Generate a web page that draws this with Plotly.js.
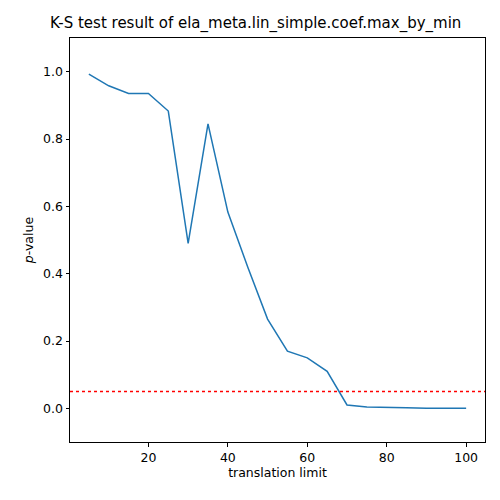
<!DOCTYPE html>
<html>
<head>
<script src="https://cdn.plot.ly/plotly-3.0.1.min.js"></script>
<style>body{margin:0;}</style>
</head>
<body>
<div id="chart" style="width:500px;height:500px;"></div>
<script>
const limits = [5, 10, 15, 20, 25, 30, 35, 40, 45, 50, 55, 60, 65, 70, 75, 80, 85, 90, 95, 100];
const pValues = [0.993, 0.958, 0.935, 0.935, 0.883, 0.49, 0.845, 0.583, 0.42, 0.265, 0.17, 0.15, 0.11, 0.01, 0.004, 0.002, 0.0015, 0.0005, 0.0005, 0.0005];
const alpha = 0.05;
const xRange = [0.25, 104.75];

const font = { family: 'DejaVu Sans', size: 12.5, color: '#000' };

const series = [
  {
    x: limits, y: pValues, type: 'scatter', mode: 'lines',
    line: { color: '#1f77b4', width: 1.5 }
  },
  {
    x: xRange, y: [alpha, alpha], type: 'scatter', mode: 'lines',
    line: { color: 'red', width: 1.5, dash: 'dot' }
  }
];

const layout = {
  width: 500, height: 500,
  showlegend: false,
  paper_bgcolor: '#fff', plot_bgcolor: '#fff',
  margin: { l: 70, r: 15, t: 38, b: 58 },
  font: font,
  title: {
    text: 'K-S test result of ela_meta.lin_simple.coef.max_by_min',
    font: { family: 'DejaVu Sans', size: 15, color: '#000' },
    x: 0.1, xanchor: 'left', y: 0.955, yanchor: 'middle'
  },
  xaxis: {
    range: xRange, tickvals: [20, 40, 60, 80, 100],
    showgrid: false, zeroline: false, showline: true, mirror: true,
    linecolor: '#000', linewidth: 1, ticks: 'outside', ticklen: 3.5, tickcolor: '#000',
    title: { text: 'translation limit', font: font, standoff: 4 }
  },
  yaxis: {
    range: [-0.1, 1.1], tickvals: [0, 0.2, 0.4, 0.6, 0.8, 1.0],
    ticktext: ['0.0', '0.2', '0.4', '0.6', '0.8', '1.0'],
    showgrid: false, zeroline: false, showline: true, mirror: true,
    linecolor: '#000', linewidth: 1, ticks: 'outside', ticklen: 3.5, tickcolor: '#000',
    title: { text: '<i>p</i>-value', font: font, standoff: 6 }
  }
};

Plotly.newPlot('chart', series, layout, { displayModeBar: false });
</script>
</body>
</html>
